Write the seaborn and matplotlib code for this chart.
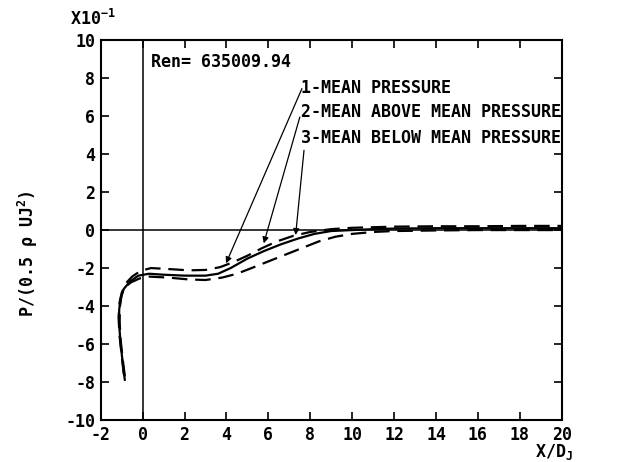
import matplotlib
matplotlib.use("Agg")
import matplotlib.pyplot as plt
import pandas as pd
import seaborn as sns

# values in units of 1e-1 (as labelled on the y axis)
x_mean = [-0.85, -0.95, -1.05, -1.12, -1.12, -1.05, -0.9, -0.6, -0.2, 0.3, 1.0, 2.0, 3.0, 3.6, 4.2,
          5.0, 5.8, 6.6, 7.4, 8.2, 9.0, 10.0, 11.0, 12.0, 14.0, 16.0, 18.0, 20.0]
y_mean = [-7.9, -7.0, -6.0, -5.0, -4.2, -3.6, -3.1, -2.7, -2.4, -2.3, -2.35, -2.4, -2.4, -2.3, -2.0,
          -1.5, -1.1, -0.75, -0.45, -0.2, -0.05, 0.0, 0.05, 0.08, 0.1, 0.1, 0.1, 0.1]

x_above = [-0.9, -1.0, -1.1, -1.15, -1.1, -1.0, -0.8, -0.5, -0.1, 0.4, 1.2, 2.2, 3.0, 3.7, 4.3,
           5.0, 5.7, 6.4, 7.2, 8.0, 9.0, 10.0, 12.0, 14.0, 16.0, 18.0, 20.0]
y_above = [-7.6, -6.6, -5.6, -4.6, -3.8, -3.3, -2.8, -2.45, -2.15, -2.0, -2.05, -2.12, -2.1, -1.95, -1.7,
           -1.35, -0.95, -0.6, -0.3, -0.1, 0.05, 0.12, 0.18, 0.2, 0.2, 0.22, 0.22]

x_below = [-0.85, -0.95, -1.05, -1.1, -1.08, -1.0, -0.85, -0.55, -0.15, 0.3, 1.2, 2.2, 3.0, 3.8, 4.5,
           5.2, 6.0, 6.8, 7.6, 8.4, 9.2, 10.0, 11.0, 12.0, 14.0, 16.0, 18.0, 20.0]
y_below = [-7.7, -6.8, -5.8, -4.8, -4.0, -3.4, -3.0, -2.75, -2.55, -2.45, -2.5, -2.6, -2.63, -2.5, -2.3,
           -2.0, -1.65, -1.3, -0.95, -0.6, -0.35, -0.2, -0.1, -0.05, -0.02, 0.0, 0.0, 0.0]

labels = ["1-MEAN PRESSURE", "2-MEAN ABOVE MEAN PRESSURE", "3-MEAN BELOW MEAN PRESSURE"]
x_ticks = list(range(-2, 21, 2))
y_ticks = list(range(-10, 11, 2))

sns.set_style("ticks")
plt.rcParams['font.family'] = ['DejaVu Sans Mono']
plt.rcParams['font.weight'] = 'bold'
plt.rcParams['mathtext.default'] = 'regular'
plt.rcParams['axes.unicode_minus'] = False
for key in ['text.color', 'axes.labelcolor', 'xtick.color', 'ytick.color', 'axes.edgecolor']:
    plt.rcParams[key] = 'black'

fig = plt.figure(figsize=(6.18, 4.62), dpi=100)
ax = fig.add_axes([0.163, 0.091, 0.746, 0.822])

df_mean = pd.DataFrame({"x": x_mean, "y": y_mean})
df_above = pd.DataFrame({"x": x_above, "y": y_above})
df_below = pd.DataFrame({"x": x_below, "y": y_below})

sns.lineplot(df_mean, x="x", y="y", sort=False, estimator=None, color="black", lw=1.6, ax=ax)
sns.lineplot(df_above, x="x", y="y", sort=False, estimator=None, color="black", lw=1.6,
             ax=ax).lines[-1].set_dashes([7, 3.5])
sns.lineplot(df_below, x="x", y="y", sort=False, estimator=None, color="black", lw=1.6,
             ax=ax).lines[-1].set_dashes([7, 3.5])

ax.axhline(0, color="black", lw=1.1)
ax.axvline(0, color="black", lw=1.1)

ax.set_xlim(-2, 20)
ax.set_ylim(-10, 10)
ax.set_xticks(x_ticks)
ax.set_yticks(y_ticks)
ax.tick_params(direction="in", top=True, right=True, length=6, width=1.2, labelsize=12, pad=4)
for s in ax.spines.values():
    s.set_linewidth(1.5)
    s.set_visible(True)
ax.set_xlabel("")
ax.set_ylabel("")

ax.text(0.4, 8.85, "Ren= 635009.94", fontsize=12, va="center", ha="left")

label_y = [7.5, 6.2, 4.85]
arrow_start = [(7.6, 7.45), (7.5, 5.95), (7.7, 4.2)]
arrow_end = [(3.98, -1.75), (5.78, -0.7), (7.3, -0.26)]
for lab, ly, st, en in zip(labels, label_y, arrow_start, arrow_end):
    ax.text(7.55, ly, lab, fontsize=12, va="center", ha="left")
    ax.annotate("", xy=en, xytext=st,
                arrowprops=dict(arrowstyle="-|>", color="black", lw=0.9, mutation_scale=9,
                                shrinkA=0, shrinkB=0))

fig.text(0.113, 0.958, "X10$^{-1}$", fontsize=12, va="center", ha="left")
fig.text(0.045, 0.45, "P/(0.5 ρ UJ$^{2}$)", fontsize=12, rotation=90, va="center", ha="center")
fig.text(0.865, 0.022, "X/D$_{J}$", fontsize=12, va="center", ha="left")

fig.savefig("out.png", dpi=100)
